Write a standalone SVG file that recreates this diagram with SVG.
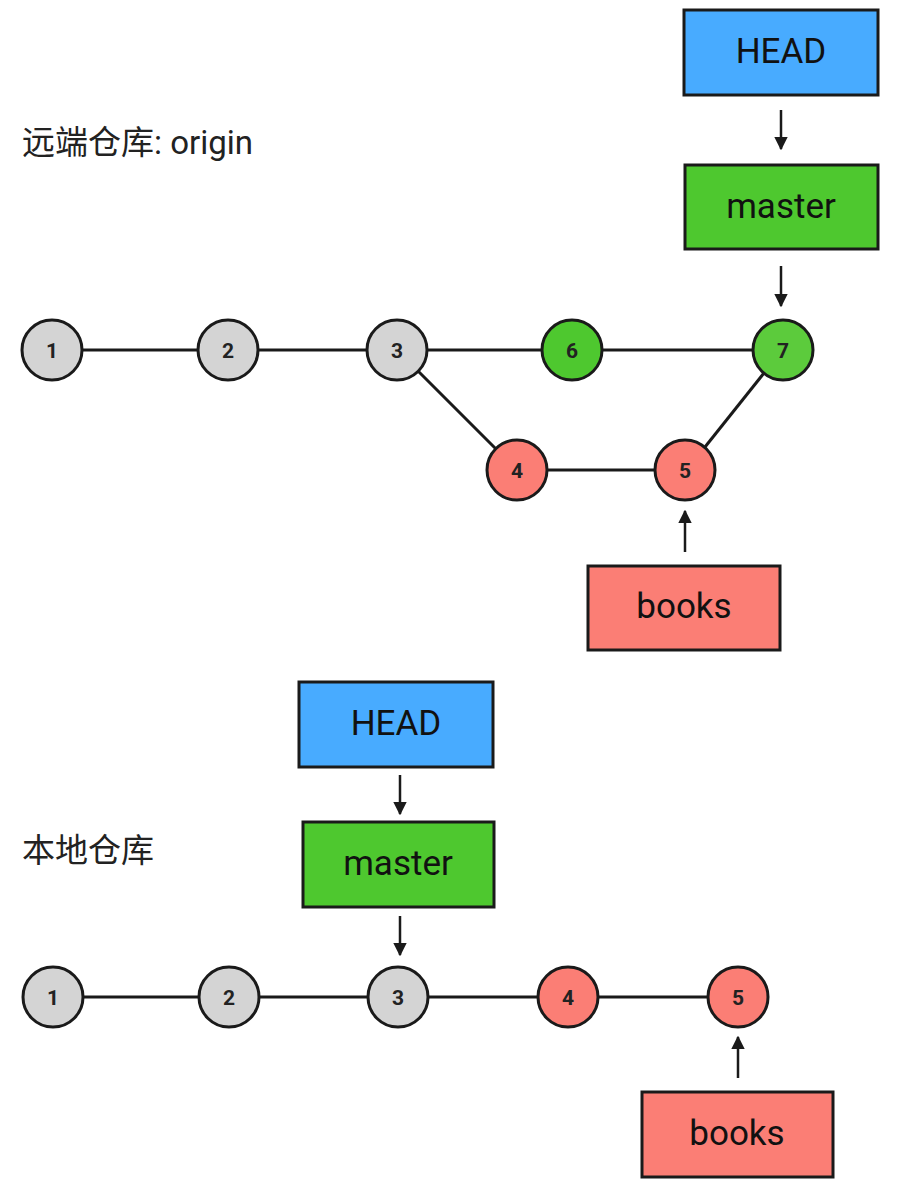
<svg xmlns="http://www.w3.org/2000/svg" width="908" height="1184" viewBox="0 0 908 1184">
<defs>
<style>
.box{stroke:#1a1a1a;stroke-width:3}
.head{fill:#48abff}
.master{fill:#4ec82f}
.books{fill:#fb7e75}
.btxt{font-family:Roboto,"Liberation Sans",sans-serif;font-size:35px;fill:#111;text-anchor:middle;dominant-baseline:central}
.c{stroke:#1a1a1a;stroke-width:3}
.grey{fill:#d4d4d4}
.green{fill:#4ec82f}
.green2{fill:#5ccb3c}
.red{fill:#fb7e75}
.ntxt{font-family:Roboto,"Liberation Sans",sans-serif;font-size:21px;font-weight:bold;fill:#222;text-anchor:middle;dominant-baseline:central}
.edge{stroke:#1a1a1a;stroke-width:3;fill:none}
.arr{stroke:#1a1a1a;stroke-width:2.5;fill:none;marker-end:url(#ah)}
.lbl{font-family:Roboto,"Noto Sans CJK SC",sans-serif;font-size:33px;fill:#222}
</style>
<marker id="ah" viewBox="0 0 10 10" refX="9" refY="5" markerWidth="5.5" markerHeight="5.5" orient="auto" markerUnits="strokeWidth">
<path d="M0,0 L10,5 L0,10 Z" fill="#1a1a1a"/>
</marker>
</defs>
<rect width="908" height="1184" fill="#ffffff"/>
<text class="lbl" x="22" y="154">远端仓库: origin</text>
<text class="lbl" x="22" y="862">本地仓库</text>
<g id="connectors">
<line class="edge" x1="82" y1="350" x2="198" y2="350"/>
<line class="edge" x1="258" y1="350" x2="367" y2="350"/>
<line class="edge" x1="427" y1="350" x2="542" y2="350"/>
<line class="edge" x1="602" y1="350" x2="753" y2="350"/>
<line class="edge" x1="418" y1="371" x2="496" y2="449"/>
<line class="edge" x1="547" y1="470" x2="655" y2="470"/>
<line class="edge" x1="705" y1="447" x2="764" y2="373"/>
<line class="edge" x1="83" y1="997" x2="199" y2="997"/>
<line class="edge" x1="259" y1="997" x2="368" y2="997"/>
<line class="edge" x1="428" y1="997" x2="538" y2="997"/>
<line class="edge" x1="598" y1="997" x2="708" y2="997"/>
<line class="arr" x1="781" y1="110" x2="781" y2="149"/>
<line class="arr" x1="781" y1="266" x2="781" y2="306"/>
<line class="arr" x1="685" y1="552" x2="685" y2="511"/>
<line class="arr" x1="400" y1="775" x2="400" y2="814"/>
<line class="arr" x1="400" y1="916" x2="400" y2="955"/>
<line class="arr" x1="738" y1="1078" x2="738" y2="1037"/>
</g>
<g id="r-head"><rect class="box head" x="684" y="10" width="194" height="85"/><text class="btxt" x="781" y="51">HEAD</text></g>
<g id="r-master"><rect class="box master" x="685" y="165" width="193" height="84"/><text class="btxt" x="781" y="206">master</text></g>
<g id="r-books"><rect class="box books" x="588" y="566" width="192" height="84"/><text class="btxt" x="684" y="606">books</text></g>
<g id="r1"><circle class="c grey" cx="52" cy="350" r="30"/><text class="ntxt" x="52" y="351">1</text></g>
<g id="r2"><circle class="c grey" cx="228" cy="350" r="30"/><text class="ntxt" x="228" y="351">2</text></g>
<g id="r3"><circle class="c grey" cx="397" cy="350" r="30"/><text class="ntxt" x="397" y="351">3</text></g>
<g id="r6"><circle class="c green" cx="572" cy="350" r="30"/><text class="ntxt" x="572" y="351">6</text></g>
<g id="r7"><circle class="c green2" cx="783" cy="350" r="30"/><text class="ntxt" x="783" y="351">7</text></g>
<g id="r4"><circle class="c red" cx="517" cy="470" r="30"/><text class="ntxt" x="517" y="471">4</text></g>
<g id="r5"><circle class="c red" cx="685" cy="470" r="30"/><text class="ntxt" x="685" y="471">5</text></g>
<g id="l-head"><rect class="box head" x="299" y="682" width="194" height="85"/><text class="btxt" x="396" y="723">HEAD</text></g>
<g id="l-master"><rect class="box master" x="303" y="822" width="191" height="85"/><text class="btxt" x="398" y="863">master</text></g>
<g id="l-books"><rect class="box books" x="642" y="1092" width="191" height="85"/><text class="btxt" x="737" y="1133">books</text></g>
<g id="l1"><circle class="c grey" cx="53" cy="997" r="30"/><text class="ntxt" x="53" y="998">1</text></g>
<g id="l2"><circle class="c grey" cx="229" cy="997" r="30"/><text class="ntxt" x="229" y="998">2</text></g>
<g id="l3"><circle class="c grey" cx="398" cy="997" r="30"/><text class="ntxt" x="398" y="998">3</text></g>
<g id="l4"><circle class="c red" cx="568" cy="997" r="30"/><text class="ntxt" x="568" y="998">4</text></g>
<g id="l5"><circle class="c red" cx="738" cy="997" r="30"/><text class="ntxt" x="738" y="998">5</text></g>
</svg>
